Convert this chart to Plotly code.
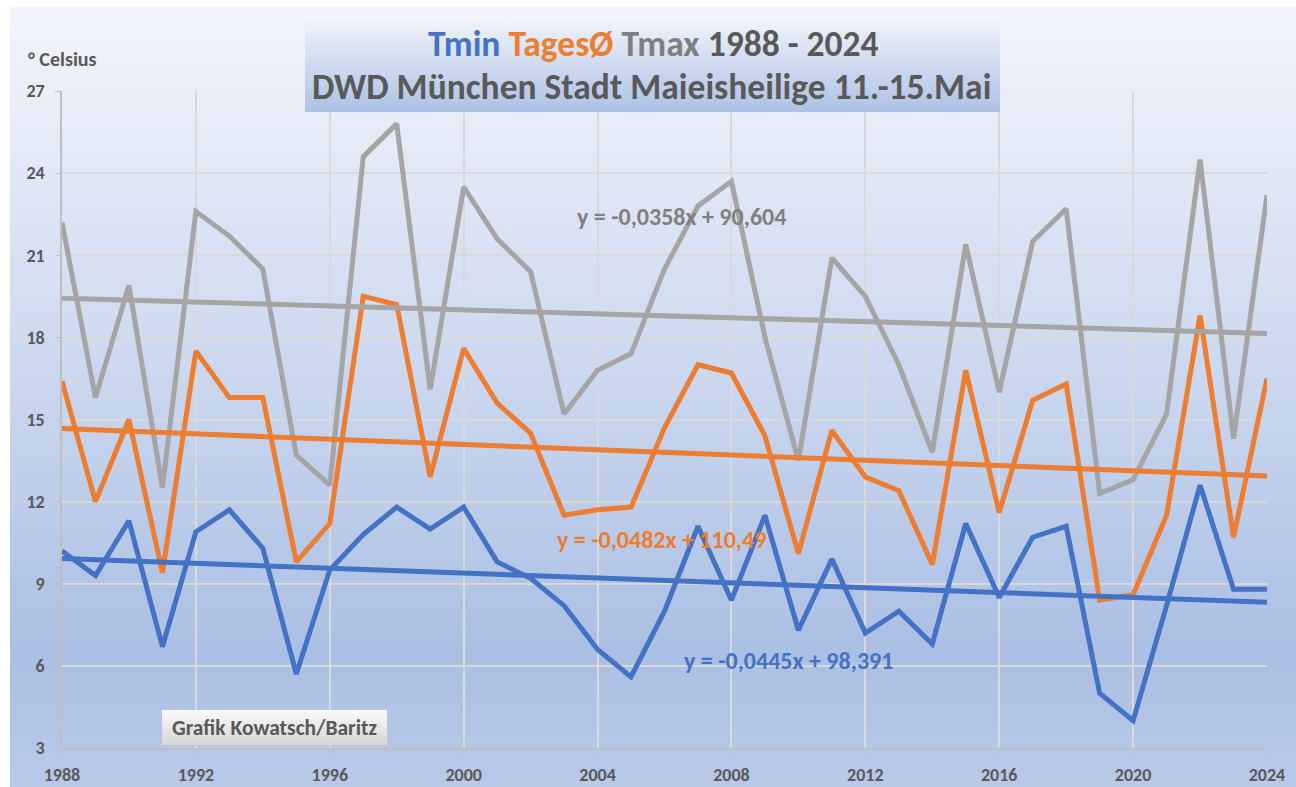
import base64
import plotly.graph_objects as go

# Mean temperatures at DWD station München Stadt, 11.-15. May ("Eisheilige")
years = list(range(1988, 2025))
tmax = [22.2, 15.8, 19.9, 12.5, 22.6, 21.7, 20.5, 13.7, 12.6, 24.6,
        25.8, 16.1, 23.5, 21.6, 20.4, 15.2, 16.8, 17.4, 20.5, 22.8,
        23.7, 18.0, 13.5, 20.9, 19.5, 17.0, 13.8, 21.4, 16.0, 21.5,
        22.7, 12.3, 12.8, 15.2, 24.5, 14.3, 23.2]
tmean = [16.4, 12.0, 15.0, 9.4, 17.5, 15.8, 15.8, 9.8, 11.2, 19.5,
         19.2, 12.9, 17.6, 15.6, 14.5, 11.5, 11.7, 11.8, 14.7, 17.0,
         16.7, 14.4, 10.1, 14.6, 12.9, 12.4, 9.7, 16.8, 11.6, 15.7,
         16.3, 8.4, 8.6, 11.5, 18.8, 10.7, 16.5]
tmin = [10.2, 9.3, 11.3, 6.7, 10.9, 11.7, 10.3, 5.7, 9.5, 10.8,
        11.8, 11.0, 11.8, 9.8, 9.2, 8.2, 6.6, 5.6, 8.0, 11.1,
        8.4, 11.5, 7.3, 9.9, 7.2, 8.0, 6.8, 11.2, 8.5, 10.7,
        11.1, 5.0, 4.0, 8.2, 12.6, 8.8, 8.8]

# Linear trends (slope, intercept) as stated on the chart
trend_max = (-0.0358, 90.604)
trend_mean = (-0.0482, 110.49)
trend_min = (-0.0445, 98.391)

x_ticks = list(range(1988, 2025, 4))
y_ticks = list(range(3, 28, 3))

C_MIN = "#4472c4"
C_MEAN = "#ed7d31"
C_MAX = "#a5a5a5"
C_TEXT = "#595959"
FONT = "Carlito, Lato, sans-serif"

W, H = 1296, 787
L, R, T, B = 62, 29, 91, 39
PW, PH = W - L - R, H - T - B


def px(xp):
    return (xp - L) / PW


def py(yp):
    return (H - B - yp) / PH


def bold_font(size, color=C_TEXT):
    return dict(family=FONT, size=size, color=color, weight="bold")


def gradient_svg(stops):
    stop_xml = "".join(
        f'<stop offset="{o}" stop-color="{c}"/>' for o, c in stops)
    svg = ('<svg xmlns="http://www.w3.org/2000/svg" width="100" height="100" '
           'preserveAspectRatio="none"><defs><linearGradient id="g" x1="0" '
           f'y1="0" x2="0" y2="1">{stop_xml}</linearGradient></defs>'
           '<rect width="100" height="100" fill="url(#g)"/></svg>')
    return "data:image/svg+xml;base64," + base64.b64encode(svg.encode()).decode()


def trend_values(coef):
    return [coef[0] * y + coef[1] for y in years]


def trend_label(coef):
    s = f"{coef[0]:.4f}".replace(".", ",")
    i = f"{coef[1]:g}".replace(".", ",")
    return f"y = {s}x + {i}"


fig = go.Figure()
for vals, col in [(tmax, C_MAX), (tmean, C_MEAN), (tmin, C_MIN)]:
    fig.add_trace(go.Scatter(x=years, y=vals, mode="lines",
                             line=dict(color=col, width=5),
                             showlegend=False))
for coef, col in [(trend_max, C_MAX), (trend_mean, C_MEAN), (trend_min, C_MIN)]:
    fig.add_trace(go.Scatter(x=years, y=trend_values(coef), mode="lines",
                             line=dict(color=col, width=5),
                             showlegend=False))

images = [
    # chart background
    dict(source=gradient_svg([(0, "#f3f5fb"), (0.45, "#cdd9ef"),
                              (0.83, "#abbfe4"), (1, "#b9c9e8")]),
         xref="paper", yref="paper", x=px(10), y=py(7),
         sizex=px(W) - px(10), sizey=py(7) - py(H),
         xanchor="left", yanchor="top", sizing="stretch", layer="below"),
    # title box
    dict(source=gradient_svg([(0, "#eef2f9"), (1, "#adc1e5")]),
         xref="paper", yref="paper", x=px(305), y=py(22),
         sizex=px(1000) - px(305), sizey=py(22) - py(112),
         xanchor="left", yanchor="top", sizing="stretch", layer="above"),
    # credit box
    dict(source=gradient_svg([(0, "#fafafa"), (1, "#d6d6d6")]),
         xref="paper", yref="paper", x=px(162), y=py(710),
         sizex=px(387) - px(162), sizey=py(710) - py(745),
         xanchor="left", yanchor="top", sizing="stretch", layer="above"),
]

annotations = [
    dict(text=(f'<span style="color:{C_MIN}">Tmin</span> '
               f'<span style="color:{C_MEAN}">TagesØ</span> '
               f'<span style="color:#7f7f7f">Tmax</span> 1988 - 2024'),
         xref="paper", yref="paper", x=px(653), y=py(44),
         showarrow=False, font=bold_font(35.5),
         xanchor="center", yanchor="middle"),
    dict(text="DWD München Stadt Maieisheilige 11.-15.Mai",
         xref="paper", yref="paper", x=px(651), y=py(87),
         showarrow=False, font=bold_font(35.5),
         xanchor="center", yanchor="middle"),
    dict(text="° Celsius", xref="paper", yref="paper", x=px(26), y=py(59),
         showarrow=False, font=bold_font(20),
         xanchor="left", yanchor="middle"),
    dict(text="Grafik Kowatsch/Baritz", xref="paper", yref="paper",
         x=px(274), y=py(728), showarrow=False, font=bold_font(21.5),
         xanchor="center", yanchor="middle"),
    dict(text=trend_label(trend_max), x=2006.5, y=22.4, showarrow=False,
         font=bold_font(24, "#808080"), xanchor="center", yanchor="middle"),
    dict(text=trend_label(trend_mean), x=2005.9, y=10.6, showarrow=False,
         font=bold_font(24, C_MEAN), xanchor="center", yanchor="middle"),
    dict(text=trend_label(trend_min), x=2009.7, y=6.2, showarrow=False,
         font=bold_font(24, C_MIN), xanchor="center", yanchor="middle"),
]

axis_common = dict(showgrid=True, gridcolor="#d9d9d9", gridwidth=1.5,
                   showline=True, linecolor="#bfbfbf", linewidth=1.5,
                   ticks="outside", ticklen=5, tickcolor="#bfbfbf",
                   zeroline=False, automargin=False, tickfont=bold_font(18))

fig.update_layout(
    width=W, height=H,
    margin=dict(l=L, r=R, t=T, b=B),
    paper_bgcolor="white", plot_bgcolor="rgba(0,0,0,0)",
    xaxis=dict(range=[1988, 2024], tickvals=x_ticks, ticklabelstandoff=5,
               **axis_common),
    yaxis=dict(range=[3, 27], tickvals=y_ticks, ticklabelstandoff=7,
               **axis_common),
    images=images, annotations=annotations,
    showlegend=False,
)

fig.write_html("out.html")
